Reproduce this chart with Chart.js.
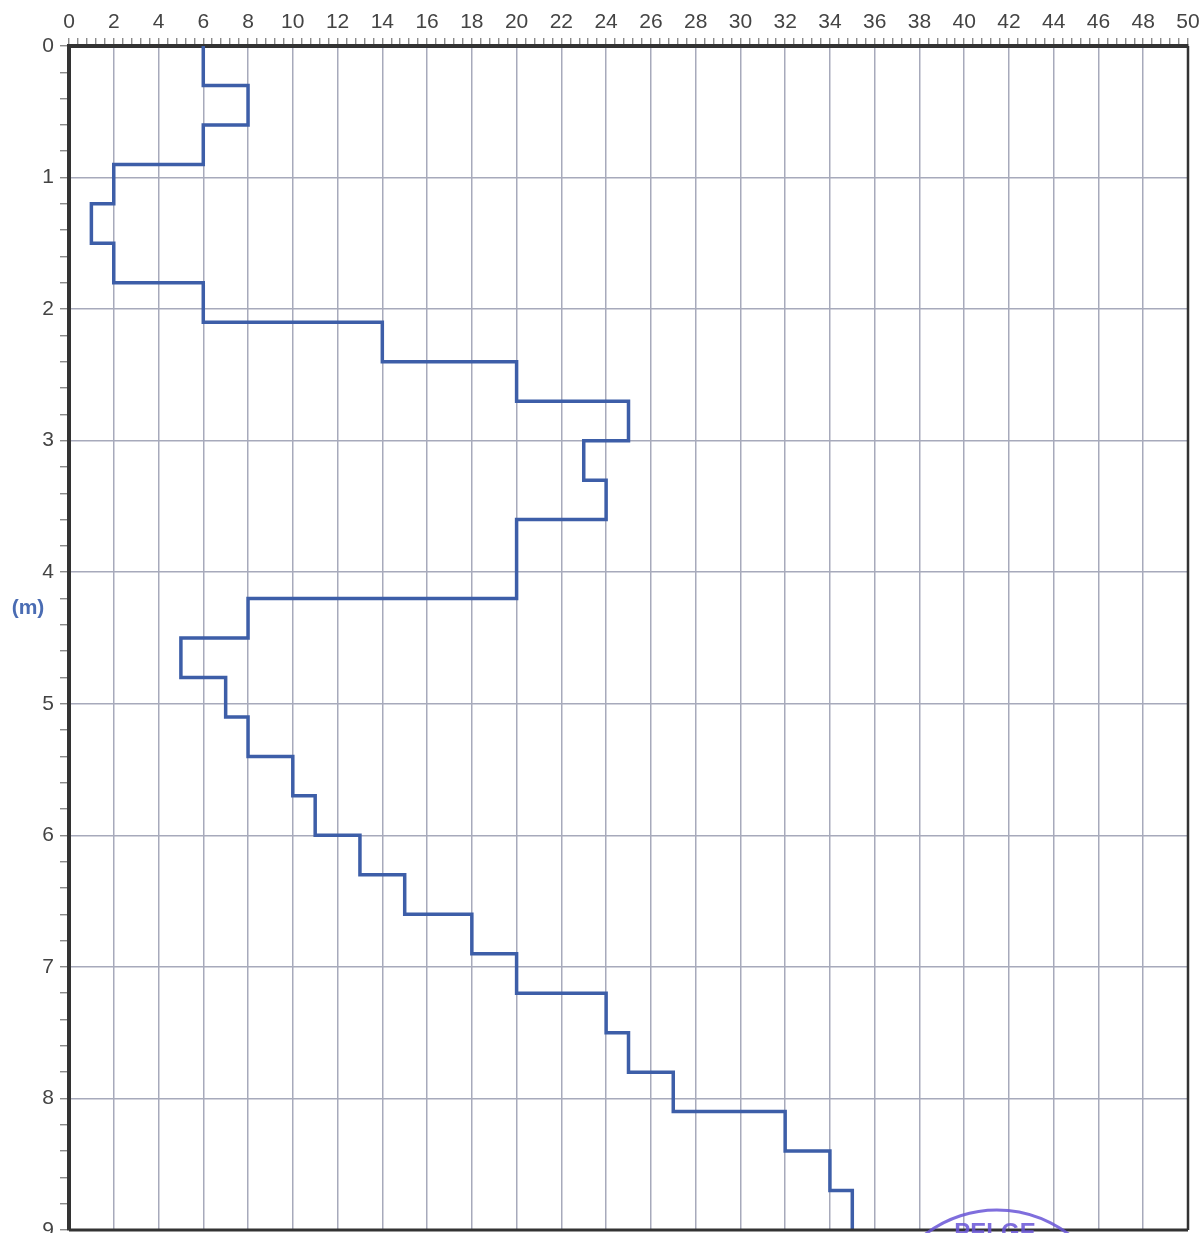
<!DOCTYPE html>
<html>
<head>
<meta charset="utf-8">
<script src="https://cdn.jsdelivr.net/npm/chart.js@4.4.1/dist/chart.umd.min.js"></script>
<style>
  html, body { margin: 0; padding: 0; background: #fff; }
  #wrap { width: 1202px; height: 1233px; }
</style>
</head>
<body>
<div id="wrap"><canvas id="penChart" width="1202" height="1233"></canvas></div>
<script>
// depth (m) of the top of each 0.3 m layer, and blow count for that layer
const depthTop = [0, 0.3, 0.6, 0.9, 1.2, 1.5, 1.8, 2.1, 2.4, 2.7,
                  3.0, 3.3, 3.6, 3.9, 4.2, 4.5, 4.8, 5.1, 5.4, 5.7,
                  6.0, 6.3, 6.6, 6.9, 7.2, 7.5, 7.8, 8.1, 8.4, 8.7];
const blowCount = [6, 8, 6, 2, 1, 2, 6, 14, 20, 25,
                   23, 24, 20, 20, 8, 5, 7, 8, 10, 11,
                   13, 15, 18, 20, 24, 25, 27, 32, 34, 35];
const depthEnd = 9.0;

const xTickLabels = [0, 2, 4, 6, 8, 10, 12, 14, 16, 18, 20, 22, 24, 26, 28, 30, 32, 34, 36, 38, 40, 42, 44, 46, 48, 50];
const yTickLabels = [0, 1, 2, 3, 4, 5, 6, 7, 8, 9];

// step profile: vertical run for each layer, joined by horizontal runs
const profile = [];
for (let i = 0; i < depthTop.length; i++) {
  const bottom = i + 1 < depthTop.length ? depthTop[i + 1] : depthEnd;
  profile.push({ x: blowCount[i], y: depthTop[i] });
  profile.push({ x: blowCount[i], y: bottom });
}

const gridCol = '#a7aabb';
const tickCol = '#777';
const near = (v, list) => list.some(t => Math.abs(t - v) < 1e-6);

const framePlugin = {
  id: 'frame',
  afterDraw(chart) {
    const { ctx, chartArea } = chart;
    ctx.save();
    ctx.strokeStyle = '#333';
    ctx.lineWidth = 2.5;
    ctx.beginPath();
    ctx.moveTo(chartArea.right, chartArea.top);
    ctx.lineTo(chartArea.right, chartArea.bottom);
    ctx.stroke();
    ctx.lineWidth = 3;
    ctx.beginPath();
    ctx.moveTo(chartArea.left, chartArea.bottom);
    ctx.lineTo(chartArea.right, chartArea.bottom);
    ctx.stroke();

    // unit label
    ctx.fillStyle = '#4a6cb3';
    ctx.font = 'bold 21px "Liberation Sans", Arial, sans-serif';
    ctx.textAlign = 'center';
    ctx.textBaseline = 'middle';
    ctx.fillText('(m)', 28, chart.scales.y.getPixelForValue(4.27));

    // partial stamp at the bottom edge
    ctx.strokeStyle = 'rgba(105, 85, 215, 0.85)';
    ctx.lineWidth = 3;
    ctx.beginPath();
    ctx.arc(997, 1328, 118, Math.PI * 1.15, Math.PI * 1.85);
    ctx.stroke();
    ctx.fillStyle = 'rgba(105, 85, 215, 0.85)';
    ctx.font = 'bold 24px "Liberation Sans", Arial, sans-serif';
    ctx.fillText('PELGE', 995, 1233);
    ctx.restore();
  }
};

const ctx = document.getElementById('penChart').getContext('2d');
const penChart = new Chart(ctx, {
  type: 'scatter',
  data: {
    datasets: [{
      data: profile,
      showLine: true,
      borderColor: '#3d5ea8',
      borderWidth: 3.5,
      pointRadius: 0,
      tension: 0
    }]
  },
  options: {
    responsive: false,
    animation: false,
    layout: { padding: { top: 0, left: 0, right: 14, bottom: 3 } },
    plugins: { legend: { display: false }, tooltip: { enabled: false } },
    scales: {
      x: {
        type: 'linear',
        position: 'top',
        min: 0,
        max: 50,
        afterFit(scale) {
          scale.height = 46;
          scale.paddingLeft = 0;
          scale.paddingRight = 0;
        },
        ticks: {
          stepSize: 0.4,
          autoSkip: false,
          maxRotation: 0,
          padding: 3,
          color: '#444',
          font: { family: '"Liberation Sans", Arial, sans-serif', size: 21 },
          callback: v => near(v, xTickLabels) ? String(Math.round(v)) : ''
        },
        grid: {
          color: c => (c.tick && near(c.tick.value, xTickLabels)) ? gridCol : 'rgba(0,0,0,0)',
          tickColor: tickCol,
          lineWidth: 1.5,
          tickWidth: 1.2,
          tickLength: 8
        },
        border: { color: '#333', width: 4 }
      },
      y: {
        type: 'linear',
        position: 'left',
        reverse: true,
        min: 0,
        max: 9,
        afterFit(scale) {
          scale.width = 69;
          scale.paddingTop = 0;
          scale.paddingBottom = 0;
        },
        ticks: {
          stepSize: 0.2,
          autoSkip: false,
          padding: 6,
          color: '#444',
          font: { family: '"Liberation Sans", Arial, sans-serif', size: 21 },
          callback: v => near(v, yTickLabels) ? String(Math.round(v)) : ''
        },
        grid: {
          color: c => (c.tick && near(c.tick.value, yTickLabels)) ? gridCol : 'rgba(0,0,0,0)',
          tickColor: tickCol,
          lineWidth: 1.5,
          tickWidth: 1.2,
          tickLength: 9
        },
        border: { color: '#333', width: 4 }
      }
    }
  },
  plugins: [framePlugin]
});
</script>
</body>
</html>
